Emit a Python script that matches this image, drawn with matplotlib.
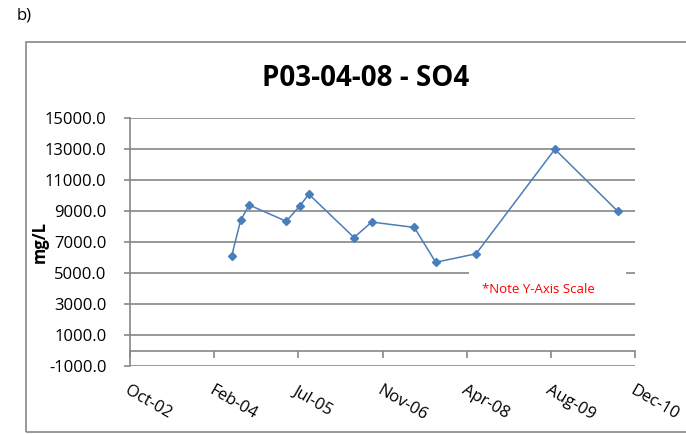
import numpy as np
import matplotlib
matplotlib.use('Agg')
import matplotlib.pyplot as plt
import matplotlib.dates as mdates
from matplotlib.patches import Rectangle

plt.rcParams['font.family'] = ['Open Sans', 'DejaVu Sans']

# sample dates and sulphate concentrations (mg/L)
sample_dates = ['2004-06-06', '2004-07-29', '2004-09-18', '2005-04-26',
                '2005-07-17', '2005-09-07', '2006-06-03', '2006-09-16',
                '2007-05-27', '2007-10-01', '2008-05-28', '2009-09-08',
                '2010-09-16']
so4 = [6100, 8400, 9400, 8350, 9350, 10100, 7300, 8300, 7950, 5700,
       6250, 13000, 9000]

axis_start = '2002-10-11'
axis_days = 3000
tick_step_days = 500
y_ticks = np.arange(-1000, 15001, 2000)

title = 'P03-04-08 - SO4'
ylabel = 'mg/L'
note = '*Note Y-Axis Scale'

line_col = '#4A7EBB'
grid_col = '#868686'

fig = plt.figure(figsize=(6.86, 4.34), dpi=100)
W, H = 686, 434

# outer chart frame
fig.patches.append(Rectangle((26 / W, 1 - 432 / H), 700 / W, (432 - 42) / H,
                             transform=fig.transFigure, fill=False,
                             edgecolor='#878787', linewidth=1.2))
fig.text(17 / W, 1 - 15 / H, 'b)', fontsize=12, va='center', ha='left')

ax = fig.add_axes([130 / W, 1 - 366 / H, 505 / W, (366 - 118.3) / H])

x = mdates.datestr2num(sample_dates)
x0 = mdates.datestr2num(axis_start)
ax.plot(x, so4, color=line_col, linewidth=1.1, marker='D', markersize=4,
        zorder=3)

ax.set_xlim(x0, x0 + axis_days)
ax.set_ylim(-1000, 15000)
xt = x0 + np.arange(0, axis_days + 1, tick_step_days)
ax.set_xticks(xt)
ax.set_xticklabels([mdates.num2date(v).strftime('%b-%y') for v in xt])
ax.set_yticks(y_ticks)
ax.set_yticklabels(['%.1f' % v for v in y_ticks])

ax.grid(axis='y', color=grid_col, linewidth=1.2)
ax.set_axisbelow(True)
for s in ['top', 'right']:
    ax.spines[s].set_visible(False)
ax.spines['bottom'].set_position(('data', 0))
ax.spines['bottom'].set_color(grid_col)
ax.spines['bottom'].set_linewidth(1.2)
ax.spines['left'].set_color(grid_col)
ax.spines['left'].set_linewidth(1.2)

ax.tick_params(axis='x', direction='out', length=5, color=grid_col,
               width=1.2, pad=18, labelsize=12)
ax.tick_params(axis='y', direction='out', length=4, color=grid_col,
               width=1.2, pad=13, labelsize=12)
for lab in ax.get_xticklabels():
    lab.set_rotation(-30)
    lab.set_ha('left')
    lab.set_va('top')
    lab.set_rotation_mode('anchor')

ax.set_ylabel(ylabel, fontsize=12, fontweight='bold')
ax.yaxis.set_label_coords(-0.16, 0.5)

fig.text(366 / W, 1 - 78 / H, title, fontsize=20, fontweight='bold',
         ha='center', va='center')

# note box covering part of the gridlines
ax.add_patch(Rectangle((0.671, 0.266), 0.311, 0.13, transform=ax.transAxes,
                       facecolor='white', edgecolor='none', zorder=2))
ax.text(0.8085, 0.3096, note, transform=ax.transAxes, color='#FF0000',
        fontsize=9.5, ha='center', va='center', zorder=4)

fig.savefig('out.png', dpi=100)
